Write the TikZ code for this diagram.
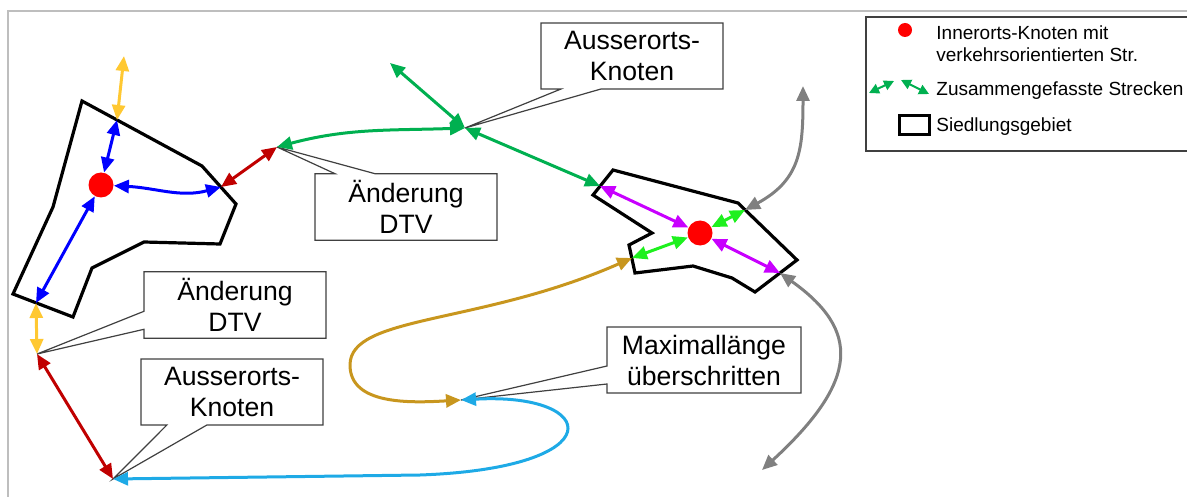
\documentclass[tikz,border=0pt]{standalone}
\usepackage{fontspec}
\setmainfont{Liberation Sans}
\usetikzlibrary{positioning, shapes, shapes.callouts, arrows.meta}
\definecolor{dotred}{RGB}{255,0,0}
\definecolor{linkblue}{RGB}{0,0,255}
\definecolor{linkyellow}{RGB}{255,200,50}
\definecolor{linkdarkred}{RGB}{192,0,0}
\definecolor{linkgreen}{RGB}{0,176,80}
\definecolor{linklime}{RGB}{30,240,30}
\definecolor{linkviolet}{RGB}{200,0,255}
\definecolor{linkgray}{RGB}{128,128,128}
\definecolor{linkgold}{RGB}{200,150,30}
\definecolor{linkcyan}{RGB}{30,170,230}
\definecolor{framegray}{RGB}{190,190,190}
\tikzset{>={Triangle[length=7.5pt,width=6.5pt]}}
\tikzset{
    knot/.style = {circle, fill=dotred, inner sep=0pt, minimum size=12.5pt},
    link/.style = {<->, line width=1.5pt},
    area/.style = {draw, line width=1.6pt, line join=miter},
    remark/.style = {rectangle callout, draw=black!75, fill=white, line width=0.6pt,
                        minimum width=91pt, minimum height=33pt, align=center,
                        font=\fontsize{13.3}{15.5}\selectfont, callout pointer width=20pt},
    legendtext/.style = {anchor=west, align=left, inner sep=0pt,
                        font=\fontsize{9.5}{11}\selectfont}
}

\begin{document}
\begin{tikzpicture}[x=0.5pt, y=-0.5pt]
    \useasboundingbox (0,0) rectangle (1187,497);
    % frame
    \draw [framegray, line width=1pt] (1187,11) -- (8,11) -- (8,497);
    % settlement areas
    \draw [area] (82,101) -- (202,166) -- (236,204) -- (220,244) -- (144,242) -- (92,268)
        -- (73,317) -- (13,294) -- (53,207) -- cycle;
    \draw [area] (613,170) -- (738,203) -- (797,260) -- (755,292) -- (732,278) -- (693,266)
        -- (635,273) -- (629,245) -- (652,233) -- (593,195) -- cycle;
    % inner nodes and junctions
    \node (dotA) [knot] at (101,185) {};
    \node (dotB) [knot] at (700,233) {};
    \coordinate (eA1) at (117,120);
    \coordinate (eA2) at (221,187);
    \coordinate (eA3) at (36,303);
    \coordinate (yTop) at (124,56);
    \coordinate (jL) at (37,354);
    \coordinate (jB) at (113,479);
    \coordinate (jT) at (277,147);
    \coordinate (kA) at (465,128);
    \coordinate (kN) at (390,63);
    \coordinate (eB1) at (600,186);
    \coordinate (eB2) at (745,210);
    \coordinate (eB3) at (632,258);
    \coordinate (eB4) at (780,273);
    \coordinate (gT) at (803,86);
    \coordinate (gB) at (762,470);
    \coordinate (mX) at (461,400);
    % callouts
    \node (noteOuterTop) [remark, callout absolute pointer=(kA)] at (632,56) {Ausserorts-\\Knoten};
    \node (noteDtvTop) [remark, callout absolute pointer=(jT)] at (406,207) {Änderung\\DTV};
    \node (noteDtvLeft) [remark, callout absolute pointer=(jL), callout pointer width=9pt] at (235,305) {Änderung\\DTV};
    \node (noteOuterLeft) [remark, callout absolute pointer=(jB)] at (232,392) {Ausserorts-\\Knoten};
    \node (noteMaxLen) [remark, callout absolute pointer=(mX), callout pointer width=9pt,
        minimum width=97pt] at (704,360) {Maximallänge\\überschritten};
    % links
    \draw [link, linkblue] (dotA) -- (eA1);
    \draw [link, linkblue] (dotA) to[out=-3, in=195] (eA2);
    \draw [link, linkblue] (dotA) -- (eA3);
    \draw [link, linkyellow] (eA1) -- (yTop);
    \draw [link, linkyellow] (eA3) -- (jL);
    \draw [link, linkdarkred] (eA2) -- (jT);
    \draw [link, linkdarkred] (jL) -- (jB);
    \draw [link, linkgreen] (jT) to[out=15, in=182] (kA);
    \draw [link, linkgreen] (kN) -- (kA);
    \draw [link, linkgreen] (kA) -- (eB1);
    \draw [link, linkviolet] (dotB) -- (eB1);
    \draw [link, linklime] (dotB) -- (eB2);
    \draw [link, linklime] (dotB) -- (eB3);
    \draw [link, linkviolet] (dotB) -- (eB4);
    \draw [link, linkgray] (eB2) .. controls (800,180) and (803,150) .. (gT);
    \draw [link, linkgray] (eB4) .. controls (860,330) and (860,380) .. (gB);
    \draw [link, linkgold] (eB3) .. controls (480,325) and (350,315) .. (350,365)
        .. controls (350,405) and (410,403) .. (mX);
    \draw [link, linkcyan] (mX) .. controls (600,392) and (615,468) .. (420,475) -- (jB);
    % legend
    \draw [black!75, line width=0.6pt] (1190,17) -- (866,17) -- (866,151) -- (1190,151);
    \node (legKnot) [knot, minimum size=7pt] at (905,30) {};
    \node (legKnotText) [legendtext] at (936,44) {Innerorts-Knoten mit\\verkehrsorientierten Str.};
    \coordinate (lz1) at (869,93);
    \coordinate (lz2) at (894,81);
    \coordinate (lz3) at (901,80);
    \coordinate (lz4) at (929,94);
    \draw [link, linkgreen, line width=1pt, >={Triangle[length=5pt,width=5pt]}] (lz1) -- (lz2);
    \draw [link, linkgreen, line width=1pt, >={Triangle[length=5pt,width=5pt]}] (lz3) -- (lz4);
    \node (legLinkText) [legendtext] at (936,91) {Zusammengefasste Strecken};
    \node (legArea) [draw, line width=1.5pt, minimum width=15pt, minimum height=9.5pt,
        inner sep=0pt] at (914,125) {};
    \node (legAreaText) [legendtext] at (936,127) {Siedlungsgebiet};
\end{tikzpicture}
\end{document}
